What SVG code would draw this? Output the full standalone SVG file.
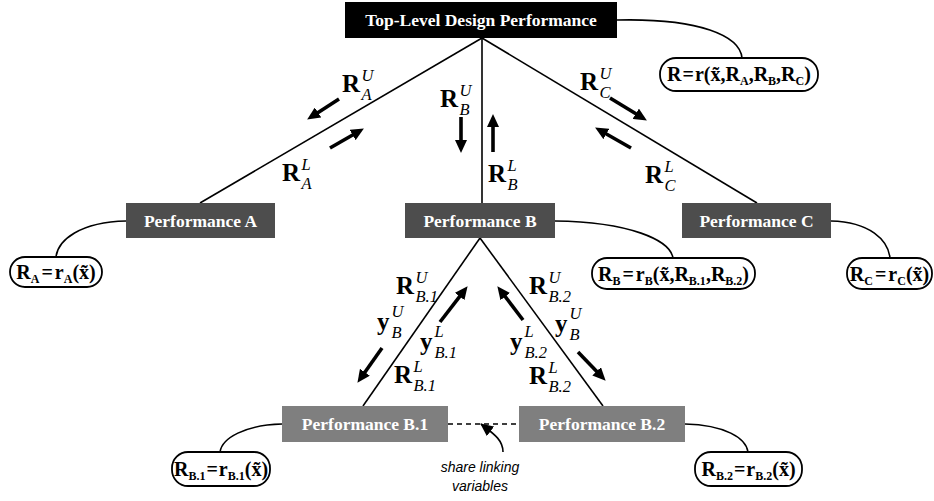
<svg xmlns="http://www.w3.org/2000/svg" width="934" height="501" viewBox="0 0 934 501">
<style>
.edge{fill:none;stroke:#000;stroke-width:1.6}
.arr{fill:none;stroke:#000;stroke-width:3.6;marker-end:url(#ah)}
.bt{font-family:"Liberation Serif","Times New Roman",serif;font-weight:bold;font-size:17.5px;fill:#fff;text-anchor:middle}
.fbox{fill:#fff;stroke:#000;stroke-width:1.8}
.ft{font-family:"Liberation Serif","Times New Roman",serif;font-weight:bold;font-size:20px;fill:#000;text-anchor:middle}
.s{font-size:12px}
.R{font-family:"Liberation Serif","Times New Roman",serif;font-weight:bold;font-size:25px;fill:#000}
.i{font-family:"Liberation Serif","Times New Roman",serif;font-style:italic;font-size:16.5px;fill:#000}
.note{font-family:"Liberation Sans",Arial,sans-serif;font-style:italic;font-size:14px;fill:#000;text-anchor:middle}
</style>
<defs>
<marker id="ah" markerUnits="userSpaceOnUse" markerWidth="14" markerHeight="12" refX="4" refY="6" orient="auto">
<path d="M0,0 L13,6 L0,12 z" fill="#000"/>
</marker>
<marker id="ahs" markerUnits="userSpaceOnUse" markerWidth="14" markerHeight="12" refX="12" refY="6" orient="auto">
<path d="M0,0 L13,6 L0,12 z" fill="#000"/>
</marker>
</defs>
<rect width="934" height="501" fill="#fff"/>

<g id="connectors">
<path class="edge" d="M482,38 L200,203"/>
<path class="edge" d="M482,38 L482,203"/>
<path class="edge" d="M482,38 L757,203"/>
<path class="edge" d="M480,238 L363,406"/>
<path class="edge" d="M480,238 L603,406"/>
<path class="edge" d="M617,20 C700,18 740,36 742,58"/>
<path class="edge" d="M126,221 C80,222 58,240 56,257"/>
<path class="edge" d="M555,221 C630,222 670,240 673,258"/>
<path class="edge" d="M831,221 C870,222 888,240 890,258"/>
<path class="edge" d="M282,424 C245,425 222,438 220,452"/>
<path class="edge" d="M685,424 C725,425 746,438 748,452"/>
<path class="edge" d="M448,424 L519,424" stroke-dasharray="5,4"/>
<path class="edge" d="M503,452 C503,440 494,434 481,424" marker-end="url(#ahs)"/>
</g>

<g id="node-top"><rect x="345" y="2" width="272" height="36" fill="#000"/><text class="bt" x="481" y="26">Top-Level Design Performance</text></g>
<g id="node-A"><rect x="126" y="203" width="149" height="35" fill="#4d4d4d"/><text class="bt" x="200.5" y="227">Performance A</text></g>
<g id="node-B"><rect x="405" y="203" width="150" height="35" fill="#4d4d4d"/><text class="bt" x="480" y="227">Performance B</text></g>
<g id="node-C"><rect x="682" y="203" width="149" height="35" fill="#4d4d4d"/><text class="bt" x="756.5" y="227">Performance C</text></g>
<g id="node-B1"><rect x="282" y="406" width="166" height="36" fill="#7f7f7f"/><text class="bt" x="365" y="430">Performance B.1</text></g>
<g id="node-B2"><rect x="519" y="406" width="166" height="36" fill="#7f7f7f"/><text class="bt" x="602" y="430">Performance B.2</text></g>

<g id="formula-R"><rect class="fbox" x="660" y="58" width="158" height="33" rx="16"/>
<text class="ft" x="739" y="81">R<tspan dx="1">=</tspan><tspan dx="1">r(x̃,R</tspan><tspan class="s" dy="4">A</tspan><tspan dy="-4">,R</tspan><tspan class="s" dy="4">B</tspan><tspan dy="-4">,R</tspan><tspan class="s" dy="4">C</tspan><tspan dy="-4">)</tspan></text></g>
<g id="formula-A"><rect class="fbox" x="10" y="257" width="92" height="30" rx="15"/>
<text class="ft" x="56" y="279">R<tspan class="s" dy="4">A</tspan><tspan dy="-4" dx="2">=</tspan><tspan dx="2">r</tspan><tspan class="s" dy="4">A</tspan><tspan dy="-4">(x̃)</tspan></text></g>
<g id="formula-B"><rect class="fbox" x="592" y="258" width="163" height="31" rx="15"/>
<text class="ft" x="673.5" y="281">R<tspan class="s" dy="4">B</tspan><tspan dy="-4" dx="2">=</tspan><tspan dx="2">r</tspan><tspan class="s" dy="4">B</tspan><tspan dy="-4">(x̃,R</tspan><tspan class="s" dy="4">B.1</tspan><tspan dy="-4">,R</tspan><tspan class="s" dy="4">B.2</tspan><tspan dy="-4">)</tspan></text></g>
<g id="formula-C"><rect class="fbox" x="847" y="258" width="85" height="31" rx="15"/>
<text class="ft" x="889.5" y="281">R<tspan class="s" dy="4">C</tspan><tspan dy="-4" dx="2">=</tspan><tspan dx="2">r</tspan><tspan class="s" dy="4">C</tspan><tspan dy="-4">(x̃)</tspan></text></g>
<g id="formula-B1"><rect class="fbox" x="172" y="452" width="98" height="34" rx="16"/>
<text class="ft" x="221" y="476">R<tspan class="s" dy="4">B.1</tspan><tspan dy="-4" dx="1">=</tspan><tspan dx="1">r</tspan><tspan class="s" dy="4">B.1</tspan><tspan dy="-4">(x̃)</tspan></text></g>
<g id="formula-B2"><rect class="fbox" x="695" y="452" width="107" height="34" rx="16"/>
<text class="ft" x="748.5" y="476">R<tspan class="s" dy="4">B.2</tspan><tspan dy="-4" dx="1">=</tspan><tspan dx="1">r</tspan><tspan class="s" dy="4">B.2</tspan><tspan dy="-4">(x̃)</tspan></text></g>

<g id="arrows">
<line class="arr" x1="339" y1="99" x2="314.7" y2="114.7"/>
<line class="arr" x1="330" y1="148" x2="356.1" y2="133"/>
<line class="arr" x1="461" y1="117" x2="461" y2="144"/>
<line class="arr" x1="493" y1="152" x2="493" y2="123"/>
<line class="arr" x1="610" y1="98" x2="639.2" y2="115.8"/>
<line class="arr" x1="631" y1="148" x2="602.9" y2="132"/>
<line class="arr" x1="382" y1="348" x2="362.6" y2="375.5"/>
<line class="arr" x1="440" y1="322" x2="462.1" y2="293.3"/>
<line class="arr" x1="523" y1="320" x2="502.8" y2="293.4"/>
<line class="arr" x1="578" y1="352" x2="599.4" y2="374.2"/>
</g>

<g id="labels">
<text class="R" x="342" y="92">R</text><text class="i" x="361.5" y="81">U</text><text class="i" x="361.5" y="100">A</text>
<text class="R" x="282" y="181">R</text><text class="i" x="301.5" y="170">L</text><text class="i" x="301.5" y="189">A</text>
<text class="R" x="440" y="107">R</text><text class="i" x="459.5" y="96">U</text><text class="i" x="459.5" y="115">B</text>
<text class="R" x="488" y="182">R</text><text class="i" x="507.5" y="171">L</text><text class="i" x="507.5" y="190">B</text>
<text class="R" x="580" y="90">R</text><text class="i" x="599.5" y="79">U</text><text class="i" x="599.5" y="98">C</text>
<text class="R" x="645" y="183">R</text><text class="i" x="664.5" y="172">L</text><text class="i" x="664.5" y="191">C</text>

<text class="R" x="396" y="294">R</text><text class="i" x="415.5" y="283">U</text><text class="i" x="415.5" y="302">B.1</text>
<text class="R" x="377" y="330">y</text><text class="i" x="391.5" y="317">U</text><text class="i" x="391.5" y="338">B</text>
<text class="R" x="420" y="350">y</text><text class="i" x="434.5" y="337">L</text><text class="i" x="434.5" y="358">B.1</text>
<text class="R" x="394" y="383">R</text><text class="i" x="413.5" y="372">L</text><text class="i" x="413.5" y="391">B.1</text>

<text class="R" x="529" y="294">R</text><text class="i" x="548.5" y="283">U</text><text class="i" x="548.5" y="302">B.2</text>
<text class="R" x="510" y="350">y</text><text class="i" x="524.5" y="337">L</text><text class="i" x="524.5" y="358">B.2</text>
<text class="R" x="555" y="332">y</text><text class="i" x="569.5" y="319">U</text><text class="i" x="569.5" y="340">B</text>
<text class="R" x="529" y="384">R</text><text class="i" x="548.5" y="373">L</text><text class="i" x="548.5" y="392">B.2</text>
</g>

<g id="note">
<text class="note" x="480" y="472">share linking</text>
<text class="note" x="480" y="491">variables</text>
</g>
</svg>
